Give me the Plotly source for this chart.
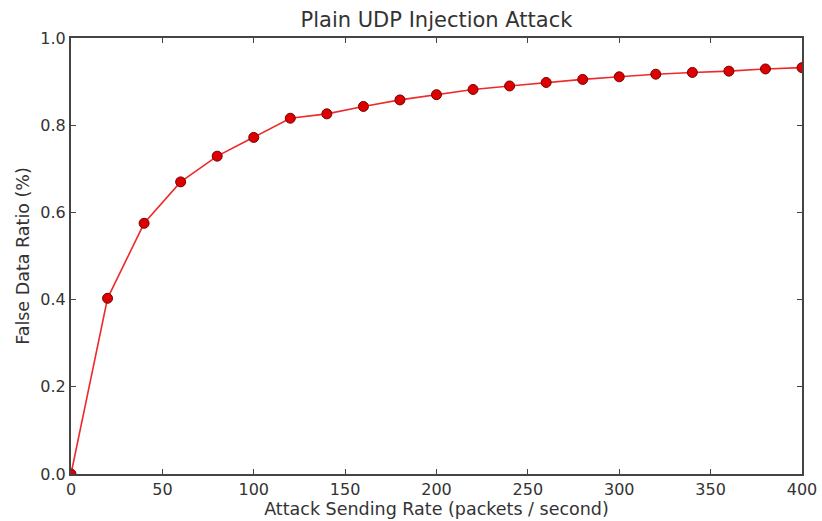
import plotly.graph_objects as go

# Attack sending rate (packets / second) and resulting false data ratio
rate = [0, 20, 40, 60, 80, 100, 120, 140, 160, 180, 200, 220, 240, 260, 280,
        300, 320, 340, 360, 380, 400]
false_ratio = [0.0, 0.403, 0.575, 0.670, 0.729, 0.772, 0.816, 0.826, 0.843,
               0.858, 0.870, 0.882, 0.890, 0.898, 0.905, 0.911, 0.917, 0.921,
               0.924, 0.929, 0.932]

x_ticks = [0, 50, 100, 150, 200, 250, 300, 350, 400]
y_ticks = [0.0, 0.2, 0.4, 0.6, 0.8, 1.0]

font_family = "DejaVu Sans"
text_color = "#333333"

fig = go.Figure()
fig.add_trace(go.Scatter(
    x=rate, y=false_ratio, mode="lines+markers",
    line=dict(color="#ee2a2a", width=1.6),
    marker=dict(color="#dd0000", size=10, line=dict(color="#7a0000", width=1)),
    cliponaxis=True,
    showlegend=False,
))

axis_common = dict(
    showline=True, linecolor="#444444", linewidth=2, mirror="ticks",
    ticks="inside", ticklen=5, tickwidth=1, tickcolor="#444444",
    showgrid=False, zeroline=False, automargin=False,
    tickfont=dict(family=font_family, size=16, color=text_color),
)

fig.update_layout(
    width=822, height=521,
    margin=dict(l=71, r=20, t=38, b=47),
    paper_bgcolor="white", plot_bgcolor="white",
    title=dict(text="Plain UDP Injection Attack", x=0.531, xanchor="center",
               y=0.962, yanchor="middle", automargin=False,
               font=dict(family=font_family, size=21, color=text_color)),
    xaxis=dict(range=[0, 400], tickvals=x_ticks,
               ticktext=[str(v) for v in x_ticks],
               title=dict(text="Attack Sending Rate (packets / second)",
                          standoff=3,
                          font=dict(family=font_family, size=17.5, color=text_color)),
               **axis_common),
    yaxis=dict(range=[0, 1.0], tickvals=y_ticks,
               ticktext=[f"{v:.1f}" for v in y_ticks],
               title=dict(text="False Data Ratio (%)", standoff=6,
                          font=dict(family=font_family, size=17.5, color=text_color)),
               **axis_common),
)

fig.write_html("out.html")
